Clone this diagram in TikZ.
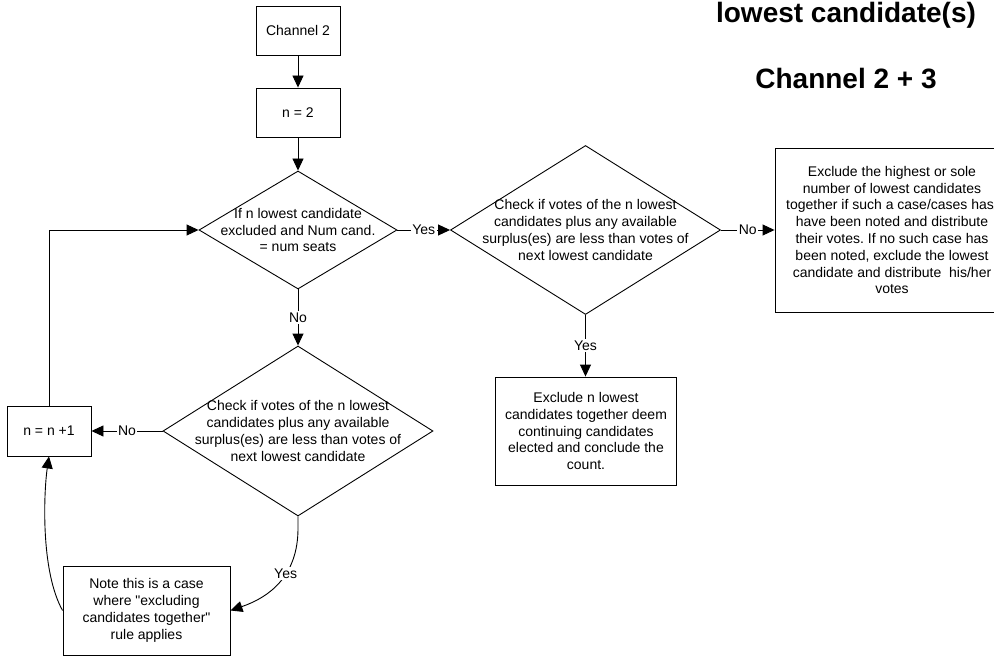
\documentclass[tikz,border=0pt]{standalone}
\usepackage{fontspec}
\setmainfont{Liberation Sans}[Ligatures=TeXOff]
\usetikzlibrary{arrows.meta,shapes.geometric}
\newcommand{\bodyfs}{\fontsize{14}{16.8}\selectfont}
\newcommand{\headfs}{\fontsize{28}{33}\selectfont\bfseries}
\frenchspacing

\begin{document}
\begin{tikzpicture}[x=1pt,y=-1pt,
  box/.style={draw, line width=0.9pt, rectangle, inner sep=0pt, align=center, font=\bodyfs},
  dec/.style={draw, line width=0.9pt, diamond, inner sep=0pt},
  txt/.style={align=center, font=\bodyfs, inner sep=0pt},
  lbl/.style={fill=white, inner sep=1.5pt, font=\bodyfs},
  arr/.style={line width=0.9pt, -{Triangle[length=12pt,width=11pt]}},
  head/.style={anchor=base, font=\headfs}]
\useasboundingbox (0,0) rectangle (994,666);
\clip (0,0) rectangle (994,666);

% headings
\node[head] (h1) at (846,23) {lowest candidate(s)};
\node[head] (h2) at (846,89) {Channel 2 + 3};

% main column
\node[box, minimum width=84, minimum height=49] (ch2) at (298,30.5) {Channel 2};
\node[box, minimum width=84, minimum height=49] (n2) at (298,112.5) {n = 2};

\node[dec, minimum width=198, minimum height=118] (d1) at (298,230) {};
\node[txt] (d1t) at (d1.center) {If n lowest candidate\\excluded and Num cand.\\= num seats};

\node[dec, minimum width=270, minimum height=169] (d2) at (585.5,230) {};
\node[txt] (d2t) at (d2.center) {Check if votes of the n lowest\\candidates plus any available\\surplus(es) are less than votes of\\next lowest candidate};

\node[box, minimum width=234, minimum height=164] (b3) at (892,230) {};
\node[txt] (b3t) at (b3.center) {Exclude the highest or sole\\number of lowest candidates\\together if such a case/cases has/\\have been noted and distribute\\their votes. If no such case has\\been noted, exclude the lowest\\candidate and distribute\ \ his/her\\votes};

\node[box, minimum width=181, minimum height=108] (b4) at (586,431) {Exclude n lowest\\candidates together deem\\continuing candidates\\elected and conclude the\\count.};

\node[dec, minimum width=270, minimum height=170] (d3) at (298,431) {};
\node[txt] (d3t) at (d3.center) {Check if votes of the n lowest\\candidates plus any available\\surplus(es) are less than votes of\\next lowest candidate};

\node[box, minimum width=84, minimum height=50] (nn1) at (49,431) {n = n +1};

\node[box, minimum width=167, minimum height=89] (note) at (146.5,610.5) {Note this is a case\\where "excluding\\candidates together"\\rule applies};

% connectors
\draw[arr] (ch2) -- (n2);
\draw[arr] (n2) -- (d1);
\draw[arr] (d1.east) -- node[lbl] {Yes} (d2.west);
\draw[arr] (d2.east) -- node[lbl] {No} (b3.west);
\draw[arr] (d2.south) -- node[lbl] {Yes} (d2.south |- b4.north);
\draw[arr] (d1.south) -- node[lbl] {No} (d3.north);
\draw[arr] (d3.west) -- node[lbl] {No} (nn1.east);
\draw[arr] (nn1.north) |- (d1.west);
\draw[arr] (d3.south) -- ++(0,12) .. controls +(0,47) and (270,597) .. node[lbl, pos=0.4] {Yes} (note.east);
\draw[arr] (note.west) .. controls (40,570) and (44,490) .. (nn1.south);
\end{tikzpicture}
\end{document}
